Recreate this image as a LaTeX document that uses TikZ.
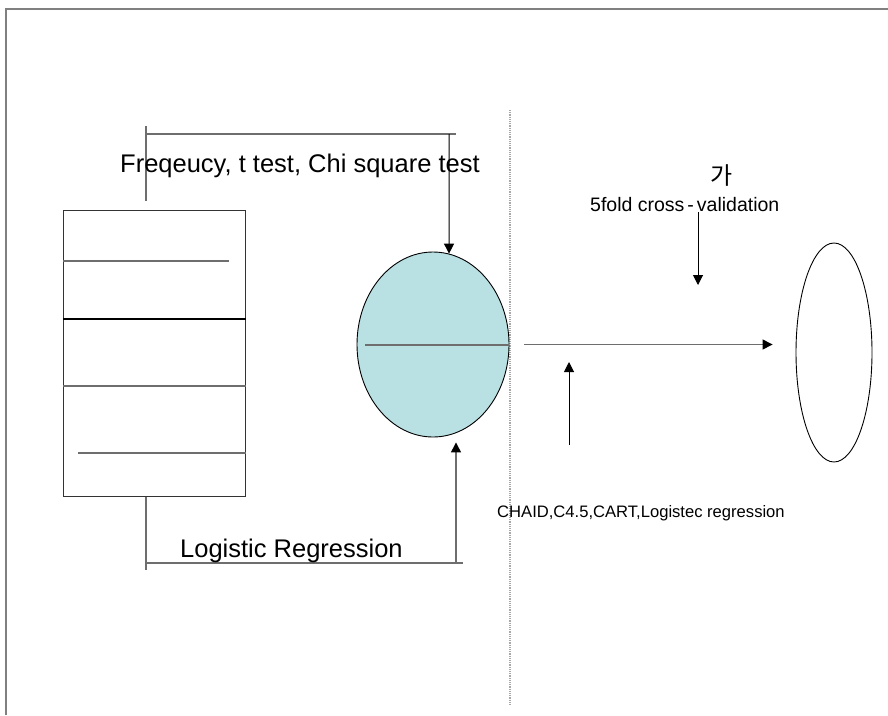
\documentclass[tikz,border=0pt]{standalone}
\usepackage{fontspec}
\setmainfont{Liberation Sans}
\newfontfamily\kofont{Noto Sans CJK KR}
\usetikzlibrary{shapes.geometric,arrows.meta}

\definecolor{framegray}{HTML}{808080}
\definecolor{linegray}{HTML}{6E6E6E}
\definecolor{dotgray}{HTML}{A8A8A8}
\definecolor{poolblue}{HTML}{B9E0E3}

\tikzset{
  frameline/.style={draw=framegray, line width=2pt},
  guideline/.style={draw=linegray, line width=1.4pt},
  thinline/.style={draw=black, line width=0.9pt},
  flowarrow/.style={draw=linegray, line width=1.3pt,
    -{Triangle[width=10pt,length=10pt,color=black]}},
  label/.style={inner sep=0pt, font=\fontsize{25.5}{28}\selectfont},
}

\begin{document}
\begin{tikzpicture}[x=1pt, y=-1pt]
  \useasboundingbox (0,0) rectangle (888,715);

  % page frame
  \draw[frameline] (6,715) -- (6,9) -- (888,9);

  % dotted divider
  \draw[dotgray, line width=1.2pt, dash pattern=on 1.2pt off 1pt] (510,110) -- (510,705);

  % data table
  \node[draw=black!80, line width=1.2pt, minimum width=182pt, minimum height=286pt,
        inner sep=0pt, anchor=north west] (table) at (63,210) {};
  \draw[guideline] (table.west |- 0,261) -- (229,261);
  \draw[thinline, line width=1.2pt] (table.west |- 0,319) -- (table.east |- 0,319);
  \draw[guideline] (table.west |- 0,386) -- (table.east |- 0,386);
  \draw[guideline] (78,453) -- (table.east |- 0,453);

  % selected variable pool
  \node[ellipse, draw=black, line width=0.9pt, fill=poolblue,
        minimum width=152pt, minimum height=185pt, inner sep=0pt] (pool) at (433,344.5) {};
  \draw[guideline] (365,345) -- (pool.east |- 0,345);

  % model output
  \node[ellipse, draw=black, line width=0.9pt,
        minimum width=76pt, minimum height=219pt, inner sep=0pt] (model) at (834,352.5) {};

  % upper bracket: univariate tests
  \coordinate (topL) at (146,134);
  \coordinate (topR) at (456,134);
  \coordinate (topDrop) at (449,134);
  \draw[guideline] (146,126) -- (146,201);
  \draw[guideline] (topL) -- (topR);
  \draw[flowarrow, draw=black, line width=1pt] (topDrop) -- (pool.80);
  \node[label, anchor=base west] (tests) at (120,172) {Freqeucy, t test, Chi square test};

  % lower bracket: logistic regression
  \coordinate (botL) at (146,563);
  \coordinate (botR) at (463,563);
  \coordinate (botRise) at (456,563);
  \draw[guideline] (table.south -| 146,0) -- (146,570);
  \draw[guideline] (botL) -- (botR);
  \draw[flowarrow, shorten >=5pt] (botRise) -- (botRise |- pool.south);
  \node[label, anchor=base west] (logreg) at (180,557) {Logistic Regression};

  % pool to model
  \draw[flowarrow, shorten <=15pt, shorten >=23pt] (pool.east) -- (pool.east -| model.west);

  % validation
  \node[inner sep=0pt, anchor=base, font=\kofont\fontsize{24}{26}\selectfont] (ga) at (722,184) {가};
  \node[inner sep=0pt, anchor=base west, font=\fontsize{19.5}{22}\selectfont] (cv) at (590,211)
    {5fold cross\kern3pt-\kern3pt validation};
  \coordinate (cvDrop) at (698,212);
  \draw[flowarrow, draw=black, line width=1pt] (cvDrop) -- (698,285);

  % modelling methods
  \node[inner sep=0pt, anchor=base west, font=\fontsize{16.6}{19}\selectfont] (methods) at (497,517)
    {CHAID,C4.5,CART,Logistec regression};
  \coordinate (methRise) at (569,445);
  \draw[flowarrow, draw=black, line width=1pt] (methRise) -- (569,362);
\end{tikzpicture}
\end{document}
